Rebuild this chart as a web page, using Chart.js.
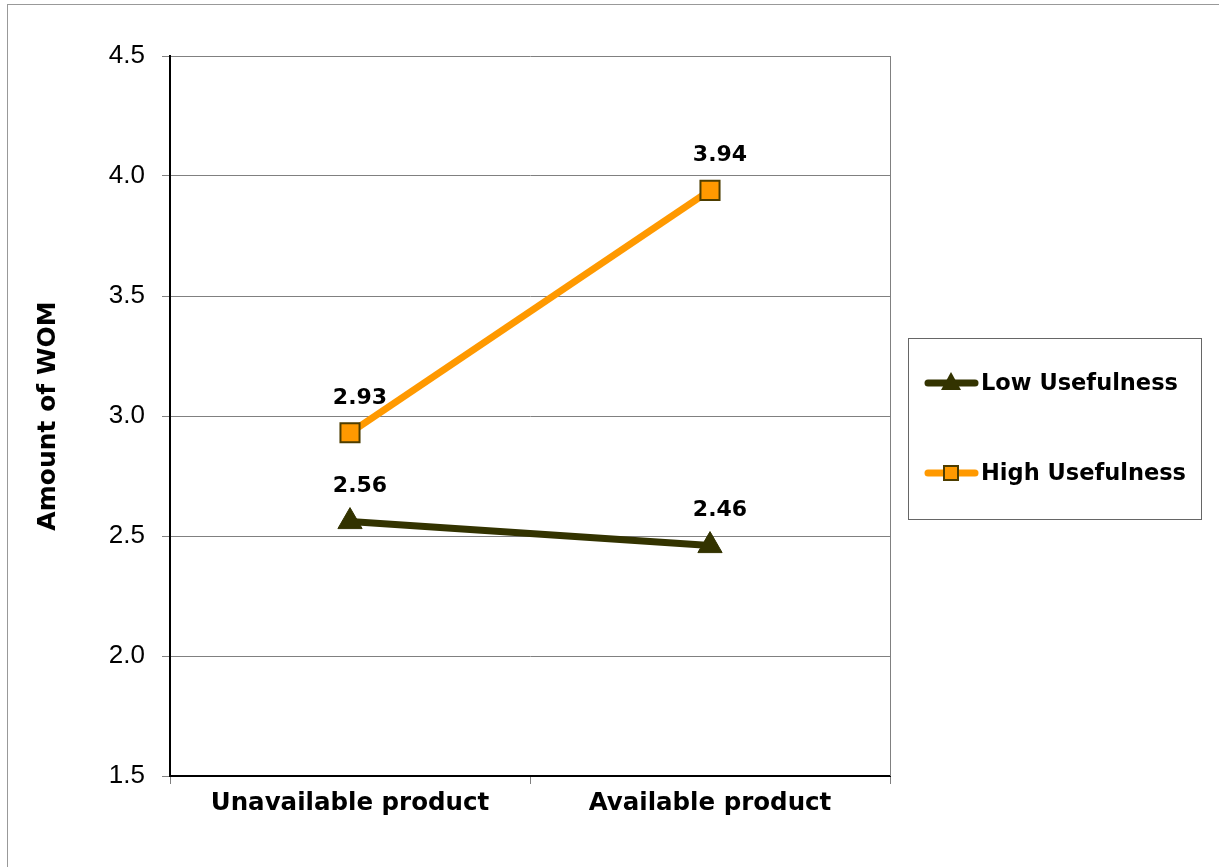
<!DOCTYPE html>
<html lang="en">
<head>
  <meta charset="UTF-8">
  <title>Amount of WOM</title>
  <script src="https://cdn.jsdelivr.net/npm/chart.js"></script>
  <style>
    html, body { margin: 0; padding: 0; background: #fff; }
    .frame {
      position: relative;
      width: 1219px;
      height: 867px;
      overflow: hidden;
    }
    .frame::before {
      content: "";
      position: absolute;
      left: 7px;
      top: 4px;
      width: 1300px;
      height: 1000px;
      border-left: 1px solid #999;
      border-top: 1px solid #999;
    }
    canvas { position: absolute; left: 0; top: 0; }
  </style>
</head>
<body>
  <div class="frame">
    <canvas id="chart" width="1219" height="867"></canvas>
  </div>

  <script>
    const categories = ['Unavailable product', 'Available product'];
    const lowUsefulness = [2.56, 2.46];
    const highUsefulness = [2.93, 3.94];
    const seriesNames = ['Low Usefulness', 'High Usefulness'];

    const LOW_COLOR = '#333300';
    const HIGH_COLOR = '#FF9900';
    const boldFont = '"DejaVu Sans", Verdana, sans-serif';

    // data labels above each point
    const pointLabels = {
      id: 'pointLabels',
      afterDatasetsDraw(chart) {
        const ctx = chart.ctx;
        ctx.save();
        ctx.font = 'bold 22px ' + boldFont;
        ctx.fillStyle = '#000';
        ctx.textAlign = 'center';
        ctx.textBaseline = 'middle';
        chart.data.datasets.forEach((ds, i) => {
          chart.getDatasetMeta(i).data.forEach((pt, j) => {
            ctx.fillText(ds.data[j].toFixed(2), pt.x + 10, pt.y - 35);
          });
        });
        ctx.restore();
      }
    };

    // right border of the plot area + boxed legend
    const frameAndLegend = {
      id: 'frameAndLegend',
      afterDraw(chart) {
        const ctx = chart.ctx;
        const a = chart.chartArea;
        ctx.save();
        ctx.strokeStyle = '#808080';
        ctx.lineWidth = 1;
        ctx.beginPath();
        ctx.moveTo(a.right + 0.5, a.top);
        ctx.lineTo(a.right + 0.5, a.bottom);
        ctx.stroke();

        const bx = 908, by = 338, bw = 293, bh = 181;
        ctx.strokeStyle = '#666';
        ctx.strokeRect(bx + 0.5, by + 0.5, bw, bh);

        const rows = [383, 473];
        chart.data.datasets.forEach((ds, i) => {
          const y = rows[i];
          ctx.strokeStyle = ds.borderColor;
          ctx.lineWidth = 7;
          ctx.lineCap = 'round';
          ctx.beginPath();
          ctx.moveTo(928, y);
          ctx.lineTo(975, y);
          ctx.stroke();
          ctx.fillStyle = ds.pointBackgroundColor;
          ctx.strokeStyle = ds.pointBorderColor;
          ctx.lineWidth = ds.pointBorderWidth;
          ctx.beginPath();
          if (ds.pointStyle === 'rect') {
            ctx.rect(944, y - 7, 14, 14);
            ctx.fill();
            ctx.stroke();
          } else {
            ctx.moveTo(951, y - 11);
            ctx.lineTo(961, y + 7);
            ctx.lineTo(941, y + 7);
            ctx.closePath();
            ctx.fill();
          }
          ctx.fillStyle = '#000';
          ctx.font = 'bold 22.5px ' + boldFont;
          ctx.textAlign = 'left';
          ctx.textBaseline = 'middle';
          ctx.fillText(ds.label, 981, y + 1);
        });
        ctx.restore();
      }
    };

    new Chart(document.getElementById('chart'), {
      type: 'line',
      data: {
        labels: categories,
        datasets: [
          {
            label: seriesNames[0],
            data: lowUsefulness,
            borderColor: LOW_COLOR,
            borderWidth: 7,
            pointStyle: 'triangle',
            pointRadius: 14,
            pointBackgroundColor: LOW_COLOR,
            pointBorderColor: LOW_COLOR,
            pointBorderWidth: 1,
            tension: 0
          },
          {
            label: seriesNames[1],
            data: highUsefulness,
            borderColor: HIGH_COLOR,
            borderWidth: 7,
            pointStyle: 'rect',
            pointRadius: 13.5,
            pointBackgroundColor: HIGH_COLOR,
            pointBorderColor: '#4d3d00',
            pointBorderWidth: 2,
            tension: 0
          }
        ]
      },
      options: {
        responsive: false,
        animation: false,
        layout: { padding: { top: 56, right: 329, left: 0, bottom: 0 } },
        plugins: {
          legend: { display: false },
          tooltip: { enabled: false }
        },
        scales: {
          x: {
            offset: true,
            afterFit: s => { s.height = 91; },
            grid: {
              offset: true,
              drawOnChartArea: false,
              tickLength: 8,
              color: '#808080'
            },
            border: { color: '#000', width: 2 },
            ticks: {
              color: '#000',
              padding: 5,
              font: { family: boldFont, size: 24.5, weight: 'bold' }
            }
          },
          y: {
            min: 1.5,
            max: 4.5,
            afterFit: s => { s.width = 170; },
            grid: {
              color: '#808080',
              tickLength: 8
            },
            border: { color: '#000', width: 2 },
            ticks: {
              stepSize: 0.5,
              color: '#000',
              padding: 17,
              font: { family: '"Liberation Sans", Arial, sans-serif', size: 26 },
              callback: v => v.toFixed(1)
            },
            title: {
              display: true,
              text: 'Amount of WOM',
              color: '#000',
              padding: { top: 33, bottom: 0 },
              font: { family: boldFont, size: 25, weight: 'bold' }
            }
          }
        }
      },
      plugins: [pointLabels, frameAndLegend]
    });
  </script>
</body>
</html>
